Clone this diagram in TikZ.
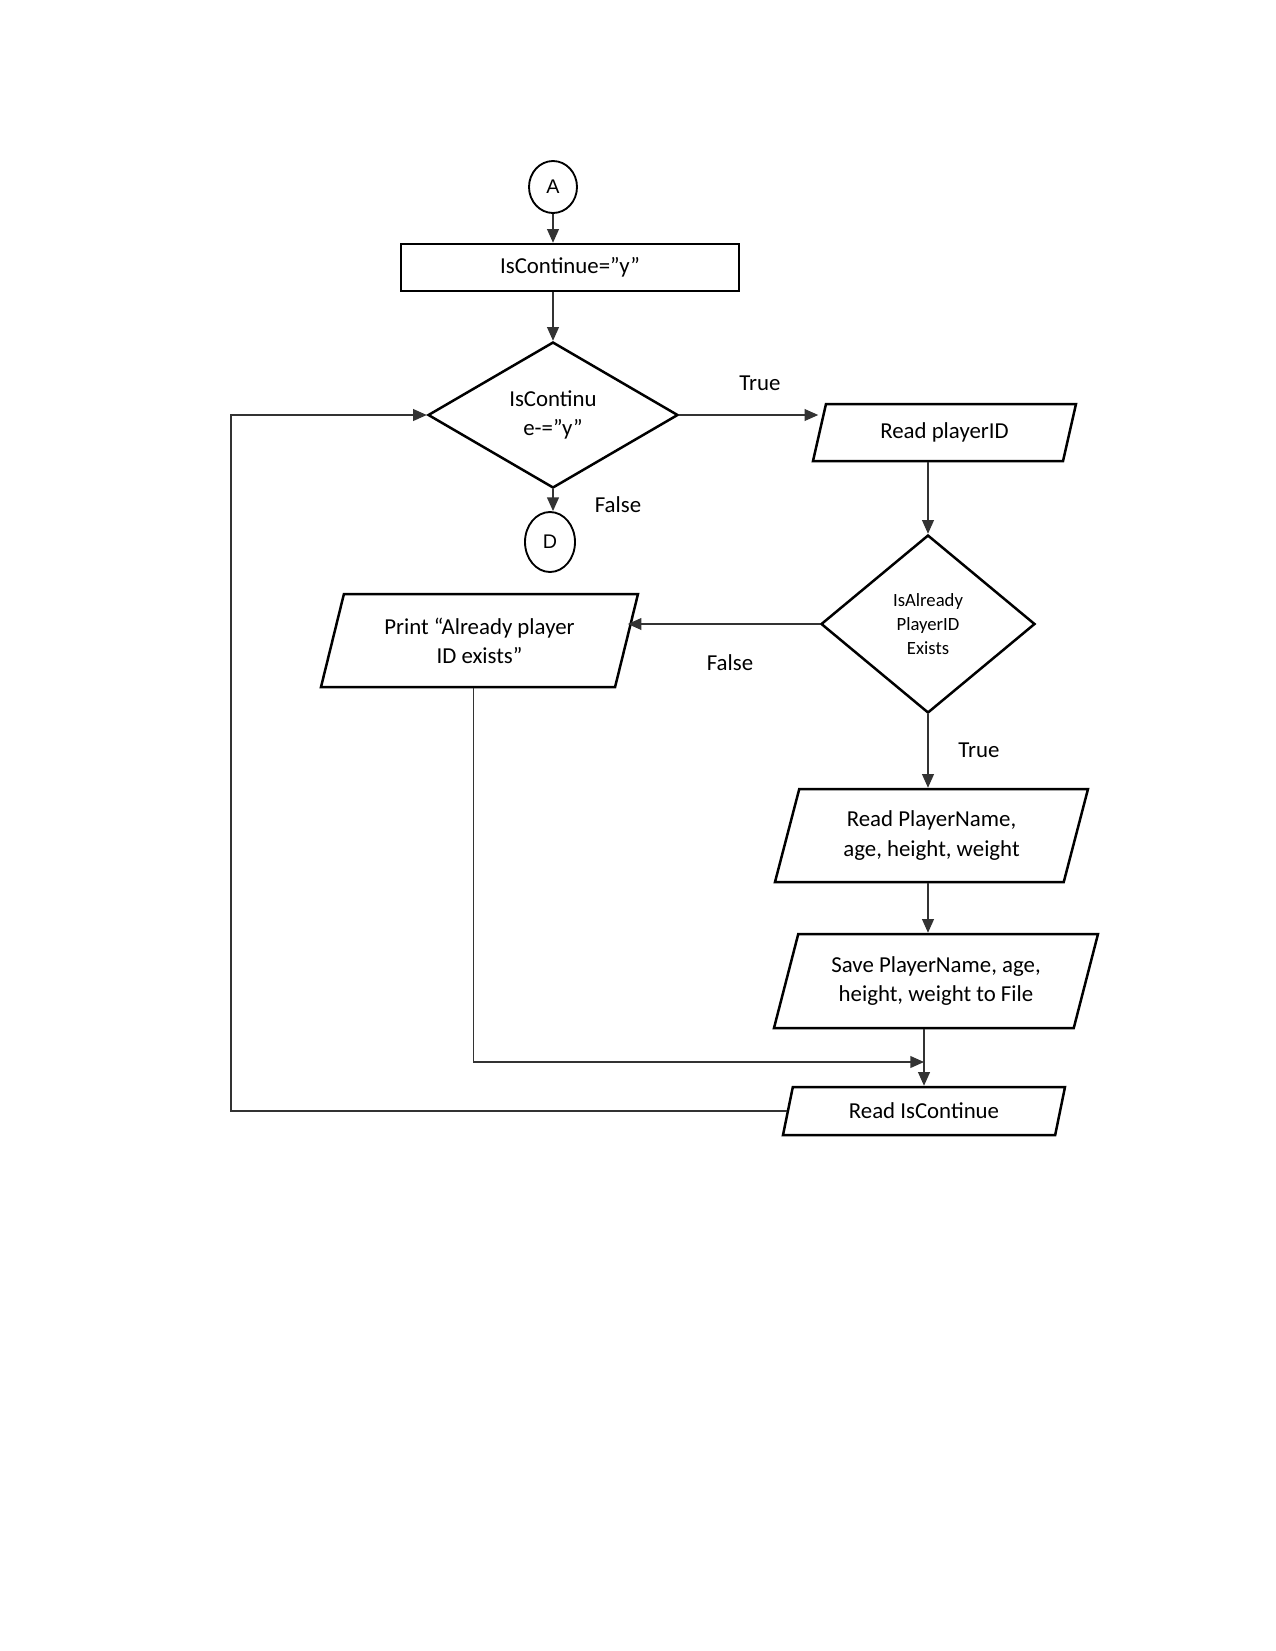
\documentclass[tikz,border=0pt]{standalone}
\usepackage{fontspec}
\setmainfont{Carlito}
\newfontfamily\circfont{Liberation Sans}
\usepackage{tikz}
\usetikzlibrary{positioning,arrows.meta,calc,shapes.geometric}
\newcommand{\pxlen}{0.16933mm}
\tikzset{
  >={Triangle[length=2.3mm,width=2mm]},
  txt/.style={font=\fontsize{11}{14}\selectfont,align=center},
  conncirc/.style={ellipse,draw=black,line width=0.9pt,inner sep=0pt,
    font=\circfont\fontsize{9.5}{11}\selectfont},
  procbox/.style={txt,draw=black,line width=1.2pt,inner sep=2pt},
  decbox/.style={txt,diamond,draw=black,line width=1.2pt,inner sep=0pt},
  iobox/.style={txt,trapezium,trapezium left angle=67,trapezium right angle=113,
    trapezium stretches body,draw=black,line width=1.2pt,inner sep=2pt},
  flow/.style={->,line width=0.6pt,black!80},
  flowlbl/.style={font=\fontsize{11}{13}\selectfont,inner sep=0pt},
}
\begin{document}
\begin{tikzpicture}[x=\pxlen,y=-\pxlen]
  \useasboundingbox (0,0) rectangle (1275,1651);
  % main loop test
  \node[conncirc,minimum width=48*\pxlen,minimum height=52*\pxlen] (A) at (553,187) {A};
  \node[procbox,minimum width=338*\pxlen,minimum height=47*\pxlen] (init) at (570,267.5) {IsContinue=”y”};
  \node[decbox,minimum width=250*\pxlen,minimum height=146*\pxlen] (chk) at (553,415) {IsContinu\\e-=”y”};
  \node[conncirc,minimum width=50*\pxlen,minimum height=60*\pxlen] (D) at (550,542) {D};
  % player input branch
  \node[iobox,trapezium left angle=65,trapezium right angle=115,
    minimum width=263*\pxlen,minimum height=57*\pxlen] (pid) at (944.5,432.5) {Read playerID};
  \node[decbox,minimum width=214*\pxlen,minimum height=178*\pxlen,
    font=\fontsize{9}{11.5}\selectfont] (ida) at (928,624) {IsAlready\\PlayerID\\Exists};
  \node[iobox,minimum width=317*\pxlen,minimum height=93*\pxlen] (prt) at (479.5,640.5) {Print “Already player\\ID exists”};
  \node[iobox,minimum width=313*\pxlen,minimum height=93*\pxlen] (rpn) at (931.5,835.5) {Read PlayerName,\\age, height, weight};
  \node[iobox,minimum width=324*\pxlen,minimum height=94*\pxlen] (sav) at (936,981) {Save PlayerName, age,\\height, weight to File};
  \node[iobox,trapezium left angle=68,trapezium right angle=112,
    minimum width=282*\pxlen,minimum height=48*\pxlen] (ric) at (924,1111) {Read IsContinue};
  \coordinate (mrg) at (924,1062);
  \coordinate (lp) at (231,415);
  % branch labels
  \node[flowlbl] (t1) at (760,383) {True};
  \node[flowlbl] (f1) at (618,505) {False};
  \node[flowlbl] (f2) at (730,663) {False};
  \node[flowlbl] (t2) at (979,750) {True};
  % connectors
  \draw[flow] (A.south) -- (A.south |- init.north);
  \draw[flow] (chk.north |- init.south) -- (chk.north);
  \draw[flow] (chk.east) -- (chk.east -| pid.west);
  \draw[flow] (chk.south) -- (chk.south |- D.north);
  \draw[flow] (ida.north |- pid.south) -- (ida.north);
  \draw[flow] (ida.west) -- (ida.west -| prt.east);
  \draw[flow] (ida.south) -- (ida.south |- rpn.north);
  \draw[flow] (ida.south |- rpn.south) -- (ida.south |- sav.north);
  \draw[flow] (ric.north |- sav.south) -- (ric.north);
  \draw[flow] ([xshift=-1mm]prt.south) |- (mrg);
  \draw[flow] (ric.west) -| (lp) -- (chk.west);
\end{tikzpicture}
\end{document}
